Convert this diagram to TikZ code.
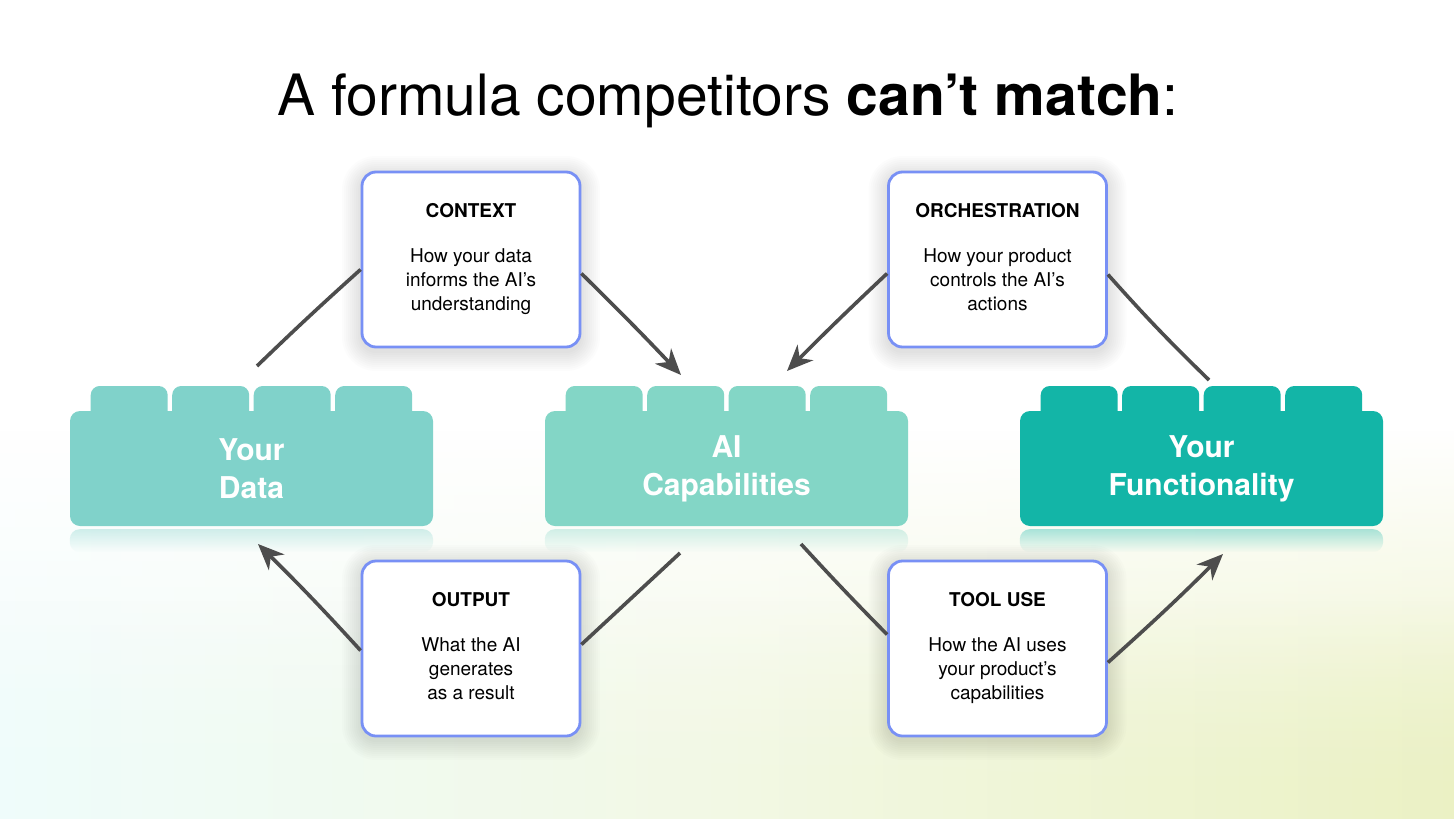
\documentclass[tikz,border=0pt]{standalone}
\usepackage{fontspec}
\setmainfont{TeX Gyre Heros}
\usetikzlibrary{arrows.meta,fadings,calc}
\definecolor{tealA}{HTML}{80D2CA}
\definecolor{tealB}{HTML}{83D6C6}
\definecolor{tealC}{HTML}{13B5A7}
\definecolor{boxblue}{HTML}{7890F5}
\definecolor{arrowgray}{HTML}{4D4D4D}
\definecolor{bgcyan}{HTML}{EFFCFB}
\definecolor{bgmid}{HTML}{F2F8E4}
\definecolor{bgyellow}{HTML}{EBF1C4}
\newcommand\legotabs[2]{%
  \foreach \i in {0,1,2,3}{
    \fill[#2, rounded corners=9pt] ({#1+20.7+81.5*\i},420) -- ({#1+20.7+81.5*\i},386) -- ({#1+20.7+81.5*\i+77},386) -- ({#1+20.7+81.5*\i+77},420) -- cycle;
  }%
}
\newcommand\softshadow[2]{%
  \foreach \k [evaluate=\k as \rr using 14+2*\k] in {1,...,10}{
    \fill[black, opacity=0.011, rounded corners=\rr pt] ({#1-109-2*\k},{#2-87.5-2*\k+4}) rectangle ({#1+109+2*\k},{#2+87.5+2*\k+4});
  }%
}
\tikzset{
  block/.style={minimum width=363pt, minimum height=115pt, rounded corners=10pt,
    text=white, font=\bfseries\fontsize{30}{38}\selectfont, align=center, inner sep=0pt},
  infobox/.style={draw=boxblue, line width=2.8pt, fill=white, rounded corners=14pt,
    minimum width=218pt, minimum height=175pt, align=center, inner sep=0pt,
    font=\fontsize{19}{24}\selectfont},
  conn/.style={draw=arrowgray, line width=3.6pt},
  arr/.style={conn, -{Stealth[length=26pt, width=22pt, inset=8pt]}},
  reflect/.style={path fading=south, opacity=0.35, rounded corners=10pt}
}
\begin{document}
\begin{tikzpicture}[x=1pt, y=-1pt]
\useasboundingbox (0,0) rectangle (1456,819);
\fill[white] (0,0) rectangle (1456,819);
% background tint
\shade[left color=bgcyan, right color=bgyellow, middle color=bgmid, path fading=north] (0,430) rectangle (1456,819);
\shade[left color=bgcyan, right color=bgyellow, middle color=bgmid, path fading=north] (0,600) rectangle (1456,819);

% title
\node[font=\fontsize{57}{60}\selectfont, anchor=base] (title) at (728,115) {A formula competitors \textbf{can’t match}:};

% blocks
\legotabs{70}{tealA}
\legotabs{545}{tealB}
\legotabs{1020}{tealC}
\node[block, fill=tealA] (data) at (251.5,468.5) {Your\\Data};
\node[block, fill=tealB] (ai) at (726.5,468.5) {AI\\Capabilities};
\node[block, fill=tealC] (func) at (1201.5,468.5) {Your\\Functionality};
\fill[tealA, reflect] ($(data.south west)+(0,3)$) rectangle ($(data.south east)+(0,26)$);
\fill[tealB, reflect] ($(ai.south west)+(0,3)$) rectangle ($(ai.south east)+(0,26)$);
\fill[tealC, reflect] ($(func.south west)+(0,3)$) rectangle ($(func.south east)+(0,26)$);

% soft shadows
\softshadow{471}{259.5}
\softshadow{997.5}{259.5}
\softshadow{471}{648.5}
\softshadow{997.5}{648.5}

% info boxes
\node[infobox] (ctx) at (471,259.5) {\textbf{CONTEXT}\\[21pt]How your data\\informs the AI’s\\understanding};
\node[infobox] (orch) at (997.5,259.5) {\textbf{ORCHESTRATION}\\[21pt]How your product\\controls the AI’s\\actions\vphantom{g}};
\node[infobox] (out) at (471,648.5) {\textbf{OUTPUT}\\[21pt]What the AI\\generates\\as a result\vphantom{g}};
\node[infobox] (tool) at (997.5,648.5) {\textbf{TOOL USE}\\[21pt]How the AI uses\\your product’s\\capabilities};

% connector ends
\coordinate (d1) at (257,366);
\coordinate (a1) at (681,375);
\coordinate (a2) at (787,371);
\coordinate (f1) at (1209,380);
\coordinate (a3) at (680,553);
\coordinate (d2) at (258,544);
\coordinate (a4) at (801,544);
\coordinate (f2) at (1223,554);

\draw[conn] (d1) to[bend left=1] ([yshift=-10pt]ctx.west);
\draw[arr] ([yshift=-14pt]ctx.east) to[bend left=1] (a1);
\draw[arr] ([yshift=-14pt]orch.west) to[bend right=1] (a2);
\draw[conn] (f1) to[bend left=2] ([yshift=-15pt]orch.east);
\draw[conn] (a3) -- ([yshift=4pt]out.east);
\draw[arr] ([yshift=-2pt]out.west) to[bend right=1.5] (d2);
\draw[conn] (a4) to[bend right=1] ([yshift=14pt]tool.west);
\draw[arr] ([yshift=-14pt]tool.east) to[bend right=1.5] (f2);
\end{tikzpicture}
\end{document}
